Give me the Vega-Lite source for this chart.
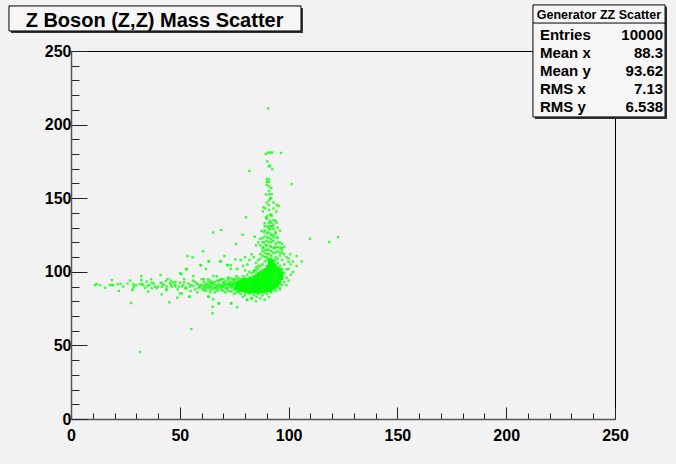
{
  "$schema": "https://vega.github.io/schema/vega-lite/v6.json",
  "width": 544,
  "height": 368,
  "autosize": {"type": "none"},
  "padding": {"left": 71, "top": 51, "right": 61, "bottom": 45},
  "background": "#f2f2f2",
  "config": {"view": {"stroke": "#000000", "strokeWidth": 1, "fill": "#f2f2f2"}, "font": "Liberation Sans"},
  "datasets": {
    "core": [
      {"x":76,"y":88},{"x":76,"y":89},{"x":76,"y":90},{"x":76,"y":91},{"x":76,"y":92},{"x":76,"y":93},
      {"x":77,"y":87},{"x":77,"y":88},{"x":77,"y":89},{"x":77,"y":90},{"x":77,"y":91},{"x":77,"y":92},{"x":77,"y":93},{"x":77,"y":94},
      {"x":78,"y":87},{"x":78,"y":88},{"x":78,"y":89},{"x":78,"y":90},{"x":78,"y":91},{"x":78,"y":92},{"x":78,"y":93},{"x":78,"y":94},
      {"x":79,"y":87},{"x":79,"y":88},{"x":79,"y":89},{"x":79,"y":90},{"x":79,"y":91},{"x":79,"y":92},{"x":79,"y":93},{"x":79,"y":94},{"x":79,"y":95},
      {"x":80,"y":86},{"x":80,"y":87},{"x":80,"y":88},{"x":80,"y":89},{"x":80,"y":90},{"x":80,"y":91},{"x":80,"y":92},{"x":80,"y":93},{"x":80,"y":94},{"x":80,"y":95},
      {"x":81,"y":86},{"x":81,"y":87},{"x":81,"y":88},{"x":81,"y":89},{"x":81,"y":90},{"x":81,"y":91},{"x":81,"y":92},{"x":81,"y":93},{"x":81,"y":94},{"x":81,"y":95},
      {"x":82,"y":86},{"x":82,"y":87},{"x":82,"y":88},{"x":82,"y":89},{"x":82,"y":90},{"x":82,"y":91},{"x":82,"y":92},{"x":82,"y":93},{"x":82,"y":94},{"x":82,"y":95},{"x":82,"y":96},
      {"x":83,"y":86},{"x":83,"y":87},{"x":83,"y":88},{"x":83,"y":89},{"x":83,"y":90},{"x":83,"y":91},{"x":83,"y":92},{"x":83,"y":93},{"x":83,"y":94},{"x":83,"y":95},{"x":83,"y":96},
      {"x":84,"y":86},{"x":84,"y":87},{"x":84,"y":88},{"x":84,"y":89},{"x":84,"y":90},{"x":84,"y":91},{"x":84,"y":92},{"x":84,"y":93},{"x":84,"y":94},{"x":84,"y":95},{"x":84,"y":96},{"x":84,"y":97},
      {"x":85,"y":86},{"x":85,"y":87},{"x":85,"y":88},{"x":85,"y":89},{"x":85,"y":90},{"x":85,"y":91},{"x":85,"y":92},{"x":85,"y":93},{"x":85,"y":94},{"x":85,"y":95},{"x":85,"y":96},{"x":85,"y":97},{"x":85,"y":98},
      {"x":86,"y":86},{"x":86,"y":87},{"x":86,"y":88},{"x":86,"y":89},{"x":86,"y":90},{"x":86,"y":91},{"x":86,"y":92},{"x":86,"y":93},{"x":86,"y":94},{"x":86,"y":95},{"x":86,"y":96},{"x":86,"y":97},{"x":86,"y":98},{"x":86,"y":99},
      {"x":87,"y":86},{"x":87,"y":87},{"x":87,"y":88},{"x":87,"y":89},{"x":87,"y":90},{"x":87,"y":91},{"x":87,"y":92},{"x":87,"y":93},{"x":87,"y":94},{"x":87,"y":95},{"x":87,"y":96},{"x":87,"y":97},{"x":87,"y":98},{"x":87,"y":99},{"x":87,"y":100},
      {"x":88,"y":86},{"x":88,"y":87},{"x":88,"y":88},{"x":88,"y":89},{"x":88,"y":90},{"x":88,"y":91},{"x":88,"y":92},{"x":88,"y":93},{"x":88,"y":94},{"x":88,"y":95},{"x":88,"y":96},{"x":88,"y":97},{"x":88,"y":98},{"x":88,"y":99},{"x":88,"y":100},{"x":88,"y":101},
      {"x":89,"y":86},{"x":89,"y":87},{"x":89,"y":88},{"x":89,"y":89},{"x":89,"y":90},{"x":89,"y":91},{"x":89,"y":92},{"x":89,"y":93},{"x":89,"y":94},{"x":89,"y":95},{"x":89,"y":96},{"x":89,"y":97},{"x":89,"y":98},{"x":89,"y":99},{"x":89,"y":100},{"x":89,"y":101},{"x":89,"y":102},
      {"x":90,"y":87},{"x":90,"y":88},{"x":90,"y":89},{"x":90,"y":90},{"x":90,"y":91},{"x":90,"y":92},{"x":90,"y":93},{"x":90,"y":94},{"x":90,"y":95},{"x":90,"y":96},{"x":90,"y":97},{"x":90,"y":98},{"x":90,"y":99},{"x":90,"y":100},{"x":90,"y":101},{"x":90,"y":102},{"x":90,"y":103},{"x":90,"y":104},
      {"x":91,"y":87},{"x":91,"y":88},{"x":91,"y":89},{"x":91,"y":90},{"x":91,"y":91},{"x":91,"y":92},{"x":91,"y":93},{"x":91,"y":94},{"x":91,"y":95},{"x":91,"y":96},{"x":91,"y":97},{"x":91,"y":98},{"x":91,"y":99},{"x":91,"y":100},{"x":91,"y":101},{"x":91,"y":102},{"x":91,"y":103},{"x":91,"y":104},{"x":91,"y":105},{"x":91,"y":106},{"x":91,"y":107},{"x":91,"y":108},
      {"x":92,"y":87},{"x":92,"y":88},{"x":92,"y":89},{"x":92,"y":90},{"x":92,"y":91},{"x":92,"y":92},{"x":92,"y":93},{"x":92,"y":94},{"x":92,"y":95},{"x":92,"y":96},{"x":92,"y":97},{"x":92,"y":98},{"x":92,"y":99},{"x":92,"y":100},{"x":92,"y":101},{"x":92,"y":102},{"x":92,"y":103},{"x":92,"y":104},{"x":92,"y":105},{"x":92,"y":106},{"x":92,"y":107},{"x":92,"y":108},
      {"x":93,"y":88},{"x":93,"y":89},{"x":93,"y":90},{"x":93,"y":91},{"x":93,"y":92},{"x":93,"y":93},{"x":93,"y":94},{"x":93,"y":95},{"x":93,"y":96},{"x":93,"y":97},{"x":93,"y":98},{"x":93,"y":99},{"x":93,"y":100},{"x":93,"y":101},{"x":93,"y":102},{"x":93,"y":103},{"x":93,"y":104},{"x":93,"y":105},{"x":93,"y":106},{"x":93,"y":107},
      {"x":94,"y":89},{"x":94,"y":90},{"x":94,"y":91},{"x":94,"y":92},{"x":94,"y":93},{"x":94,"y":94},{"x":94,"y":95},{"x":94,"y":96},{"x":94,"y":97},{"x":94,"y":98},{"x":94,"y":99},{"x":94,"y":100},{"x":94,"y":101},{"x":94,"y":102},{"x":94,"y":103},{"x":94,"y":104},{"x":94,"y":105},
      {"x":95,"y":90},{"x":95,"y":91},{"x":95,"y":92},{"x":95,"y":93},{"x":95,"y":94},{"x":95,"y":95},{"x":95,"y":96},{"x":95,"y":97},{"x":95,"y":98},{"x":95,"y":99},{"x":95,"y":100},{"x":95,"y":101},{"x":95,"y":102},{"x":95,"y":103},
      {"x":96,"y":92},{"x":96,"y":93},{"x":96,"y":94},{"x":96,"y":95},{"x":96,"y":96},{"x":96,"y":97},{"x":96,"y":98},{"x":96,"y":99},{"x":96,"y":100},{"x":96,"y":101},{"x":96,"y":102},
      {"x":97,"y":95},{"x":97,"y":96},{"x":97,"y":97},{"x":97,"y":98},{"x":97,"y":99},{"x":97,"y":100}
    ],
    "scatter": [
      {"x":88,"y":105},{"x":89,"y":107},{"x":90,"y":108},{"x":91,"y":109},{"x":93,"y":108},{"x":95,"y":106},{"x":96,"y":104},{"x":94,"y":110},{"x":92,"y":111},{"x":90,"y":112},{"x":89,"y":110},{"x":87,"y":104},{"x":86,"y":102},{"x":85,"y":101},{"x":84,"y":100},{"x":93,"y":113},{"x":91,"y":115},{"x":92,"y":117},{"x":95,"y":114},{"x":97,"y":108},{"x":96,"y":111},{"x":90,"y":118},{"x":94,"y":119},{"x":88,"y":114},{"x":87,"y":109},{"x":93,"y":121},{"x":91,"y":123},{"x":89,"y":120},{"x":95,"y":123},{"x":92,"y":125},
      {"x":98,"y":93},{"x":97,"y":102},{"x":98,"y":99},{"x":99,"y":96},{"x":100,"y":102},{"x":98,"y":105},{"x":101,"y":98},{"x":96,"y":89},{"x":99,"y":91},{"x":100,"y":94},{"x":102,"y":100},{"x":97,"y":91},
      {"x":78,"y":85},{"x":80,"y":84},{"x":82,"y":85},{"x":84,"y":84},{"x":86,"y":85},{"x":88,"y":84},{"x":90,"y":85},{"x":92,"y":86},{"x":94,"y":87},{"x":96,"y":88},{"x":79,"y":83},{"x":83,"y":82},{"x":87,"y":82},{"x":85,"y":80},{"x":91,"y":83},{"x":81,"y":81},{"x":77,"y":86},{"x":75,"y":85},{"x":89,"y":81},
      {"x":77,"y":96},{"x":79,"y":97},{"x":81,"y":98},{"x":83,"y":99},{"x":84,"y":101},{"x":82,"y":100},{"x":80,"y":96},{"x":78,"y":95},{"x":75,"y":95},{"x":76,"y":97},{"x":85,"y":103},{"x":86,"y":104},{"x":80,"y":101},{"x":74,"y":93},{"x":73,"y":96},
      {"x":60,"y":91},{"x":61,"y":90},{"x":61,"y":93},{"x":62,"y":89},{"x":62,"y":92},{"x":63,"y":91},{"x":63,"y":95},{"x":64,"y":90},{"x":64,"y":88},{"x":65,"y":92},{"x":65,"y":93},{"x":66,"y":89},{"x":66,"y":91},{"x":67,"y":90},{"x":67,"y":94},{"x":68,"y":92},{"x":68,"y":88},{"x":69,"y":91},{"x":69,"y":89},{"x":70,"y":93},{"x":70,"y":90},{"x":70,"y":87},{"x":71,"y":91},{"x":71,"y":94},{"x":72,"y":89},{"x":72,"y":92},{"x":73,"y":90},{"x":73,"y":93},{"x":73,"y":87},{"x":74,"y":91},{"x":74,"y":89},{"x":74,"y":95},{"x":75,"y":90},{"x":75,"y":92},{"x":75,"y":88},{"x":76,"y":86},{"x":72,"y":96},{"x":69,"y":95},{"x":66,"y":86},{"x":64,"y":94},{"x":62,"y":87},{"x":67,"y":97},{"x":71,"y":86},{"x":65,"y":90},{"x":68,"y":90},
      {"x":40,"y":90},{"x":42,"y":92},{"x":44,"y":90},{"x":46,"y":91},{"x":48,"y":93},{"x":49,"y":88},{"x":51,"y":90},{"x":52,"y":93},{"x":53,"y":89},{"x":55,"y":91},{"x":56,"y":94},{"x":57,"y":88},{"x":58,"y":92},{"x":59,"y":90},{"x":60,"y":89},{"x":61,"y":95},{"x":62,"y":91},{"x":63,"y":89},{"x":64,"y":92},{"x":65,"y":88},{"x":66,"y":93},{"x":67,"y":89},{"x":68,"y":94},{"x":69,"y":90},{"x":70,"y":92},{"x":71,"y":89},{"x":72,"y":91},{"x":73,"y":92},{"x":74,"y":90},{"x":75,"y":94},{"x":76,"y":95},{"x":72,"y":87},{"x":70,"y":95},{"x":67,"y":87},{"x":64,"y":86},{"x":61,"y":88},{"x":58,"y":86},{"x":55,"y":87},{"x":52,"y":95},{"x":48,"y":90},{"x":46,"y":94},{"x":44,"y":88},{"x":38,"y":92},{"x":36,"y":91},{"x":34,"y":89},{"x":30,"y":91},{"x":26,"y":92},{"x":24,"y":90},
      {"x":89,"y":133},{"x":93,"y":132},{"x":90,"y":136},{"x":92,"y":139},{"x":91,"y":142},{"x":93,"y":143},{"x":90,"y":147},{"x":92,"y":150},{"x":91,"y":155},{"x":92,"y":157},{"x":89,"y":128},{"x":94,"y":126},{"x":91,"y":131},{"x":88,"y":123},{"x":95,"y":120},{"x":90,"y":110},{"x":92,"y":109},{"x":94,"y":108},{"x":89,"y":115},{"x":87,"y":118},
      {"x":11,"y":91},{"x":11.8,"y":91.7},{"x":13.3,"y":91},{"x":15.6,"y":89.2},{"x":17.9,"y":91},{"x":18.8,"y":91},{"x":19.4,"y":91},{"x":18.8,"y":94.4},{"x":21.4,"y":91.7},{"x":22.8,"y":91.7},{"x":22,"y":87},{"x":27.1,"y":94},{"x":28.6,"y":91.7},{"x":29.1,"y":90.3},{"x":28.6,"y":88.8},{"x":28.2,"y":87.6},{"x":31.7,"y":91.7},{"x":32.6,"y":91.7},{"x":33.2,"y":91},{"x":32.3,"y":97.1},{"x":32.3,"y":94.4},{"x":34.8,"y":93.3},{"x":35.1,"y":90.3},{"x":35.5,"y":86.5},{"x":36.8,"y":94.9},{"x":37.1,"y":92.6},{"x":37.2,"y":88.8},{"x":38.6,"y":89.9},{"x":39.4,"y":88.8},{"x":41.2,"y":97.8},{"x":41.2,"y":92.6},{"x":41.7,"y":89.9},{"x":42.7,"y":91},{"x":43.7,"y":93.7},{"x":41.7,"y":84.7},{"x":43.7,"y":87.6},{"x":44.4,"y":95.1},{"x":45.2,"y":79.3},{"x":45.5,"y":92.2},{"x":46.3,"y":89.9},{"x":47,"y":92.6},{"x":47.8,"y":91},{"x":48.9,"y":82.4},{"x":49.5,"y":89.9},{"x":50.1,"y":92.6},{"x":50.7,"y":98.5},{"x":50.9,"y":85.4},{"x":51.6,"y":91},{"x":52.4,"y":88.8},{"x":53.2,"y":101.9},{"x":53.9,"y":92.2},{"x":54.4,"y":83.1},{"x":54.7,"y":89.9},{"x":56.2,"y":97.1},{"x":56.2,"y":90.3},{"x":57,"y":93.3},{"x":57.8,"y":91.7},{"x":58.5,"y":88.8},{"x":59.3,"y":91},{"x":59.6,"y":104.6},{"x":60,"y":94.9},{"x":60.8,"y":87.6},{"x":61.6,"y":90.3},{"x":62,"y":101.9},{"x":63.3,"y":107.3},{"x":63.3,"y":83.1},{"x":63.1,"y":93.3},{"x":63.9,"y":89.9},{"x":64.7,"y":92.2},{"x":65.1,"y":76.3},{"x":65.1,"y":71.8},{"x":65.4,"y":97.1},{"x":66.2,"y":88.8},{"x":67,"y":91},{"x":67.9,"y":78.6},{"x":68.5,"y":94.4},{"x":68.8,"y":107.3},{"x":69.3,"y":87.6},{"x":70,"y":90.3},{"x":70.8,"y":92.2},{"x":71.6,"y":88.8},{"x":71.8,"y":104.6},{"x":72.3,"y":94.4},{"x":73.1,"y":91},{"x":73.4,"y":101.9},{"x":73.7,"y":78.6},{"x":73.9,"y":86.5},{"x":74.6,"y":91.7},{"x":75.4,"y":88.8},{"x":76.2,"y":92.2},{"x":76.4,"y":101.9},{"x":76.4,"y":75.9},{"x":76.9,"y":89.9},
      {"x":27.6,"y":78.8},{"x":31.7,"y":45.5},{"x":55.3,"y":61.1},
      {"x":90.6,"y":211},{"x":90.6,"y":181},{"x":91.5,"y":181},{"x":92.4,"y":181},{"x":89.5,"y":180},{"x":96.5,"y":180.7},{"x":90.2,"y":175},{"x":91.5,"y":172},{"x":90.9,"y":171.6},{"x":92.5,"y":169.8},{"x":82,"y":168.5},{"x":90,"y":163},{"x":91,"y":163},{"x":90,"y":161},{"x":91,"y":161},{"x":90,"y":159},{"x":91,"y":158},{"x":101.4,"y":159.6},{"x":89.6,"y":152.6},{"x":91.1,"y":152.6},{"x":92.2,"y":152.8},{"x":91.5,"y":149.7},{"x":90.9,"y":148.5},{"x":93,"y":147},{"x":94.5,"y":145.4},{"x":95.4,"y":144.7},{"x":88.4,"y":143.8},{"x":89.2,"y":143.1},{"x":90.9,"y":145.4},{"x":88.1,"y":141},{"x":94.4,"y":141},{"x":91.5,"y":138.6},{"x":92.2,"y":137.9},{"x":90.2,"y":137.9},{"x":80.4,"y":137},{"x":89.6,"y":137},{"x":93,"y":135},{"x":94,"y":134.7},{"x":91.5,"y":134.7},{"x":94.5,"y":133.3},{"x":90.9,"y":133.3},{"x":92,"y":133.3},{"x":90.2,"y":130.6},{"x":92.5,"y":130.6},{"x":91.5,"y":128.9},{"x":96,"y":127.9},{"x":69,"y":128.4},{"x":87.6,"y":127.7},{"x":88.8,"y":127},{"x":90.4,"y":127},{"x":78.9,"y":125.2},{"x":65.4,"y":126.6},{"x":91.5,"y":126},{"x":93.1,"y":123.4},{"x":90.2,"y":123.4},{"x":94.4,"y":123.4},{"x":84.4,"y":123.8},{"x":86.9,"y":122.3},{"x":86.1,"y":120},{"x":109.8,"y":122.5},{"x":118.6,"y":120.2},{"x":122.7,"y":123.6},{"x":75.8,"y":118.9},{"x":85,"y":118},{"x":88.4,"y":117},{"x":89.6,"y":118},{"x":91.5,"y":117.5},{"x":93.8,"y":117},{"x":96,"y":116},{"x":96.8,"y":116.5},
      {"x":60.7,"y":113.9},{"x":70.5,"y":110.7},{"x":53.5,"y":110.7},{"x":55.9,"y":109.8},{"x":100.7,"y":112},{"x":103.7,"y":110.7},{"x":106,"y":107.1},{"x":103.7,"y":103.9},{"x":99.9,"y":106.8},{"x":99.1,"y":101.7},{"x":63.3,"y":107},{"x":59.6,"y":104.4},{"x":68.6,"y":107},{"x":72,"y":104.4},{"x":73.4,"y":104.4},{"x":75.5,"y":108.5},{"x":52.9,"y":101.7},{"x":50.1,"y":99},{"x":73.5,"y":78.6},{"x":68,"y":78.6},{"x":54.4,"y":83.1},{"x":50.1,"y":85.4},{"x":63.1,"y":83.1},{"x":65.4,"y":81.3},{"x":80.8,"y":80.8},{"x":83,"y":82},{"x":85.3,"y":83.1},
      {"x":87,"y":112},{"x":88,"y":116},{"x":89,"y":113},{"x":90,"y":115},{"x":91,"y":112},{"x":92,"y":114},{"x":93,"y":116},{"x":94,"y":113},{"x":95,"y":117},{"x":96,"y":113},{"x":97,"y":115},{"x":89,"y":124},{"x":90,"y":121},{"x":92,"y":120},{"x":93,"y":125},{"x":94,"y":127},{"x":91,"y":129},{"x":92,"y":131},{"x":93,"y":129},{"x":89,"y":131},{"x":95,"y":130},{"x":88,"y":120},{"x":97,"y":119},{"x":91,"y":120},{"x":90,"y":126},{"x":92,"y":122},{"x":94,"y":116},{"x":96,"y":120},{"x":98,"y":112},{"x":98,"y":117},{"x":99,"y":110},{"x":95,"y":109},{"x":97,"y":113},{"x":88,"y":111},{"x":86,"y":108},{"x":85,"y":106},{"x":84,"y":110},{"x":83,"y":112},{"x":82,"y":108},{"x":81,"y":105},{"x":80,"y":110},{"x":79,"y":104},{"x":78,"y":108},{"x":100,"y":109},{"x":101,"y":105},{"x":102,"y":107}
    ]
  },
  "layer": [
    {
      "data": {"name": "scatter"},
      "mark": {"type": "point", "shape": "square", "filled": true, "size": 6, "color": "#00ff00", "opacity": 0.75, "strokeWidth": 0},
      "encoding": {
        "x": {"field": "x", "type": "quantitative",
          "scale": {"domain": [0, 250], "nice": false, "zero": false},
          "axis": {"title": null, "grid": false, "tickCount": 40,
            "values": [0,10,20,30,40,50,60,70,80,90,100,110,120,130,140,150,160,170,180,190,200,210,220,230,240,250],
            "labelExpr": "datum.value % 50 === 0 ? datum.label : ''",
            "tickSize": {"condition": {"test": "datum.value % 50 === 0", "value": -12}, "value": -6},
            "tickColor": "#222222", "tickWidth": 1,
            "domainColor": "#555555", "domainWidth": 1.5,
            "labelFont": "Liberation Sans", "labelFontWeight": "bold", "labelFontSize": 16, "labelColor": "#000000",
            "labelPadding": 20, "labelFlush": false, "labelOverlap": false, "labelBound": false}},
        "y": {"field": "y", "type": "quantitative",
          "scale": {"domain": [0, 250], "nice": false, "zero": false},
          "axis": {"title": null, "grid": false, "tickCount": 40,
            "values": [0,10,20,30,40,50,60,70,80,90,100,110,120,130,140,150,160,170,180,190,200,210,220,230,240,250],
            "labelExpr": "datum.value % 50 === 0 ? datum.label : ''",
            "tickSize": {"condition": {"test": "datum.value % 50 === 0", "value": -16}, "value": -8},
            "tickColor": "#222222", "tickWidth": 1,
            "domainColor": "#555555", "domainWidth": 1.5,
            "labelFont": "Liberation Sans", "labelFontWeight": "bold", "labelFontSize": 16, "labelColor": "#000000",
            "labelPadding": 16, "labelFlush": false, "labelOverlap": false, "labelBound": false}}
      }
    },
    {
      "data": {"name": "core"},
      "mark": {"type": "point", "shape": "square", "filled": true, "size": 5, "color": "#00ff00", "opacity": 1, "strokeWidth": 0},
      "encoding": {
        "x": {"field": "x", "type": "quantitative"},
        "y": {"field": "y", "type": "quantitative"}
      }
    },
    {
      "data": {"values": [{}]},
      "mark": {"type": "rect", "fill": "#333333", "clip": false},
      "encoding": {"x": {"datum": -27.6}, "x2": {"datum": 106.6}, "y": {"datum": 279.2}, "y2": {"datum": 262.2}}
    },
    {
      "data": {"values": [{}]},
      "mark": {"type": "rect", "fill": "#f6f6f6", "stroke": "#000000", "strokeWidth": 1, "clip": false},
      "encoding": {"x": {"datum": -28.5}, "x2": {"datum": 105.7}, "y": {"datum": 280.6}, "y2": {"datum": 263.6}}
    },
    {
      "data": {"values": [{"t": "Z Boson (Z,Z) Mass Scatter"}]},
      "mark": {"type": "text", "font": "Liberation Sans", "fontWeight": "bold", "fontSize": 20, "align": "center", "baseline": "alphabetic", "color": "#000000", "clip": false},
      "encoding": {"x": {"datum": 38.4}, "y": {"datum": 266.3}, "text": {"field": "t"}}
    },
    {
      "data": {"values": [{}]},
      "mark": {"type": "rect", "fill": "#333333", "clip": false},
      "encoding": {"x": {"datum": 213.2}, "x2": {"datum": 273.9}, "y": {"datum": 280.0}, "y2": {"datum": 203.8}}
    },
    {
      "data": {"values": [{}]},
      "mark": {"type": "rect", "fill": "#f6f6f6", "stroke": "#000000", "strokeWidth": 1, "clip": false},
      "encoding": {"x": {"datum": 212.3}, "x2": {"datum": 273.0}, "y": {"datum": 281.3}, "y2": {"datum": 205.2}}
    },
    {
      "data": {"values": [{}]},
      "mark": {"type": "rule", "stroke": "#000000", "strokeWidth": 1, "clip": false},
      "encoding": {"x": {"datum": 212.3}, "x2": {"datum": 273.0}, "y": {"datum": 269.0}}
    },
    {
      "data": {"values": [{"t": "Generator ZZ Scatter"}]},
      "mark": {"type": "text", "font": "Liberation Sans", "fontWeight": "bold", "fontSize": 12.5, "align": "center", "baseline": "alphabetic", "color": "#000000", "clip": false},
      "encoding": {"x": {"datum": 242.6}, "y": {"datum": 271.7}, "text": {"field": "t"}}
    },
    {
      "data": {"values": [{"t": ["Entries", "Mean x", "Mean y", "RMS x", "RMS y"]}]},
      "mark": {"type": "text", "font": "Liberation Sans", "fontWeight": "bold", "fontSize": 15, "align": "left", "baseline": "alphabetic", "lineHeight": 18, "color": "#000000", "clip": false},
      "encoding": {"x": {"datum": 215.5}, "y": {"datum": 257.8}, "text": {"field": "t"}}
    },
    {
      "data": {"values": [{"t": ["10000", "88.3", "93.62", "7.13", "6.538"]}]},
      "mark": {"type": "text", "font": "Liberation Sans", "fontWeight": "bold", "fontSize": 15, "align": "right", "baseline": "alphabetic", "lineHeight": 18, "color": "#000000", "clip": false},
      "encoding": {"x": {"datum": 272.1}, "y": {"datum": 257.8}, "text": {"field": "t"}}
    }
  ]
}
